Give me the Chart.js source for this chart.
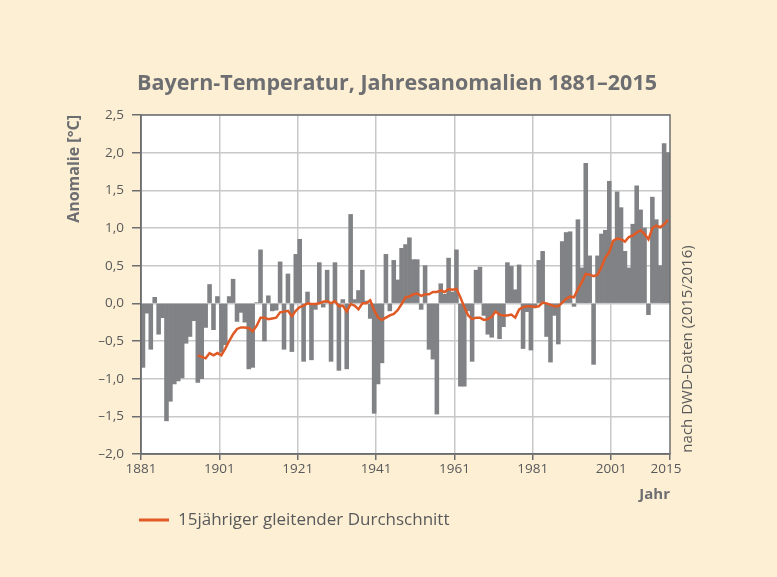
<!DOCTYPE html>
<html>
<head>
<meta charset="utf-8">
<script src="https://cdn.jsdelivr.net/npm/chart.js@4.4.0/dist/chart.umd.min.js"></script>
<style>
  html, body { margin: 0; padding: 0; background: #fdefd3; overflow: hidden; }
  canvas { display: block; }
</style>
</head>
<body>
<canvas id="tempChart" width="777" height="577"></canvas>
<script>
// texts
const titleText = 'Bayern-Temperatur, Jahresanomalien 1881–2015';
const yTitle = 'Anomalie [°C]';
const xTitle = 'Jahr';
const lineLabel = '15jähriger gleitender Durchschnitt';
const sourceNote = 'nach DWD-Daten (2015/2016)';

// yearly anomalies 1881..2015
const firstYear = 1881;
const anomalies = [
  -0.85, -0.13, -0.61, 0.08, -0.41, -0.19, -1.56, -1.30, -1.07, -1.03,   // 1881-1890
  -0.99, -0.53, -0.44, -0.23, -1.05, -1.00, -0.32, 0.25, -0.35, 0.09,    // 1891-1900
  -0.65, -0.55, 0.09, 0.32, -0.24, -0.12, -0.25, -0.87, -0.85, 0.01,     // 1901-1910
  0.71, -0.50, 0.10, -0.10, -0.09, 0.55, -0.61, 0.39, -0.64, 0.65,       // 1911-1920
  0.85, -0.77, 0.15, -0.75, -0.08, 0.54, -0.05, 0.44, -0.77, 0.54,       // 1921-1930
  -0.89, 0.05, -0.87, 1.18, 0.05, 0.17, 0.44, 0.03, -0.20, -1.46,        // 1931-1940
  -1.07, -0.79, 0.65, -0.10, 0.57, 0.31, 0.73, 0.78, 0.87, 0.58,         // 1941-1950
  0.58, -0.08, 0.50, -0.61, -0.74, -1.47, 0.26, 0.12, 0.60, 0.15,        // 1951-1960
  0.71, -1.10, -1.10, -0.10, -0.77, 0.44, 0.48, -0.16, -0.41, -0.45,     // 1961-1970
  -0.10, -0.47, -0.31, 0.54, 0.49, 0.18, 0.51, -0.60, -0.11, -0.62,      // 1971-1980
  -0.06, 0.57, 0.69, -0.44, -0.78, -0.16, -0.54, 0.82, 0.94, 0.95,       // 1981-1990
  -0.04, 1.11, 0.47, 1.86, 0.63, -0.81, 0.63, 0.92, 0.97, 1.62,          // 1991-2000
  0.82, 1.48, 1.27, 0.69, 0.47, 1.05, 1.56, 1.24, 1.00, -0.15,           // 2001-2010
  1.41, 1.11, 0.50, 2.12, 2.00                                           // 2011-2015
];

// 15-year moving average, drawn from 1895 on
const maStart = 1895;
const movingAvg = [
  -0.69, -0.71, -0.73, -0.66, -0.69, -0.66,                              // 1895-1900
  -0.69, -0.60, -0.50, -0.41, -0.34, -0.32, -0.32, -0.33, -0.37, -0.30,  // 1901-1910
  -0.19, -0.19, -0.21, -0.20, -0.19, -0.12, -0.11, -0.10, -0.17, -0.10,  // 1911-1920
  -0.05, -0.03, 0.00, -0.01, -0.01, 0.00, 0.02, 0.03, 0.00, 0.03,        // 1921-1930
  -0.04, -0.03, -0.11, -0.01, -0.03, -0.08, 0.00, 0.00, 0.04, -0.09,     // 1931-1940
  -0.19, -0.22, -0.19, -0.16, -0.14, -0.09, -0.01, 0.08, 0.09, 0.12,     // 1941-1950
  0.13, 0.10, 0.12, 0.12, 0.15, 0.15, 0.17, 0.15, 0.19, 0.18,            // 1951-1960
  0.19, 0.08, -0.05, -0.16, -0.21, -0.19, -0.19, -0.22, -0.21, -0.18,    // 1961-1970
  -0.11, -0.15, -0.16, -0.16, -0.15, -0.19, -0.08, -0.05, -0.04, -0.04,  // 1971-1980
  -0.05, -0.04, 0.01, 0.00, -0.02, -0.04, -0.04, 0.01, 0.06, 0.09,       // 1981-1990
  0.08, 0.19, 0.28, 0.39, 0.38, 0.36, 0.38, 0.48, 0.61, 0.68,            // 1991-2000
  0.83, 0.86, 0.85, 0.82, 0.88, 0.90, 0.94, 0.97, 0.92, 0.85,            // 2001-2010
  1.00, 1.03, 1.01, 1.05, 1.11                                           // 2011-2015
];

const tickYears = [1881, 1901, 1921, 1941, 1961, 1981, 2001, 2015];
const gridYears = [1901, 1921, 1941, 1961, 1981, 2001];
const yMin = -2.0, yMax = 2.5, yStep = 0.5;

// colours
const cream = '#fdefd3';
const barGray = '#808285';
const orange = '#e05a26';
const gridGray = '#c8c8c8';
const axisGray = '#6d6e71';
const textGray = '#58595b';
const fontFamily = "'Open Sans', 'Noto Sans', sans-serif";

const years = anomalies.map((v, i) => String(firstYear + i));
const maData = years.map(y => (+y < maStart ? null : movingAvg[+y - maStart]));

function fmt(v) {
  return v.toFixed(1).replace('.', ',').replace('-', '–');
}

// cream page, white plot, frame, title, legend and side note
const decor = {
  id: 'decor',
  beforeDraw(chart) {
    const { ctx, chartArea: a } = chart;
    ctx.save();
    ctx.fillStyle = cream;
    ctx.fillRect(0, 0, chart.width, chart.height);
    ctx.fillStyle = '#ffffff';
    ctx.fillRect(a.left, a.top, a.right - a.left, a.bottom - a.top);
    ctx.restore();
  },
  afterDatasetsDraw(chart) {
    const { ctx, chartArea: a } = chart;
    ctx.save();
    ctx.strokeStyle = axisGray;
    ctx.lineWidth = 1.5;
    ctx.strokeRect(a.left, a.top, a.right - a.left, a.bottom - a.top);
    ctx.restore();
  },
  afterDraw(chart) {
    const { ctx } = chart;
    ctx.save();
    // title
    ctx.fillStyle = axisGray;
    ctx.font = 'bold 21.5px ' + fontFamily;
    ctx.textAlign = 'center';
    ctx.textBaseline = 'middle';
    ctx.fillText(titleText, 397, 84);
    // legend
    ctx.strokeStyle = orange;
    ctx.lineWidth = 3;
    ctx.beginPath();
    ctx.moveTo(139, 520);
    ctx.lineTo(169, 520);
    ctx.stroke();
    ctx.fillStyle = textGray;
    ctx.font = '17px ' + fontFamily;
    ctx.textAlign = 'left';
    ctx.fillText(lineLabel, 178, 520);
    // source note, rotated
    ctx.translate(688, 349);
    ctx.rotate(-Math.PI / 2);
    ctx.font = '15px ' + fontFamily;
    ctx.textAlign = 'center';
    ctx.fillText(sourceNote, 0, 0);
    ctx.restore();
  }
};

const ctx = document.getElementById('tempChart').getContext('2d');
const chart = new Chart(ctx, {
  data: {
    labels: years,
    datasets: [
      {
        type: 'line',
        label: lineLabel,
        data: maData,
        borderColor: orange,
        borderWidth: 2.5,
        pointRadius: 0,
        tension: 0,
        order: 0
      },
      {
        type: 'bar',
        label: 'Anomalie',
        data: anomalies,
        backgroundColor: barGray,
        barPercentage: 1,
        categoryPercentage: 1,
        borderWidth: 0,
        order: 1
      }
    ]
  },
  options: {
    responsive: false,
    animation: false,
    layout: { padding: { left: 62, right: 107, top: 115, bottom: 73 } },
    plugins: {
      legend: { display: false },
      title: { display: false },
      tooltip: { enabled: false }
    },
    scales: {
      x: {
        type: 'category',
        offset: true,
        afterFit: (scale) => { scale.height = 50; },
        border: { display: true, color: axisGray, width: 1.5 },
        grid: {
          offset: true,
          drawTicks: true,
          tickLength: 6,
          lineWidth: 1.5,
          color: (c) => (c.type === 'tick' && gridYears.includes(+years[c.index]) ? gridGray : 'transparent'),
          tickColor: (c) => {
            if (c.type !== 'tick') return axisGray;
            const y = +years[c.index];
            return (tickYears.includes(y) && y !== 2015) ? axisGray : 'transparent';
          }
        },
        ticks: {
          autoSkip: false,
          maxRotation: 0,
          padding: 1,
          labelOffset: -2,
          color: textGray,
          font: { family: fontFamily, size: 13.5 },
          callback: function (val, idx) {
            const y = +years[idx];
            return tickYears.includes(y) ? String(y) : '';
          }
        },
        title: {
          display: true,
          text: xTitle,
          align: 'end',
          color: axisGray,
          padding: { top: 0, bottom: 0 },
          font: { family: fontFamily, size: 15, weight: 'bold' }
        }
      },
      y: {
        type: 'linear',
        min: yMin,
        max: yMax,
        afterFit: (scale) => { scale.width = 79; },
        border: { display: true, color: axisGray, width: 1.5 },
        grid: {
          color: gridGray,
          lineWidth: 1.5,
          tickLength: 9,
          tickColor: axisGray
        },
        ticks: {
          stepSize: yStep,
          padding: 8,
          color: textGray,
          font: { family: fontFamily, size: 13.5 },
          callback: (v) => fmt(v)
        },
        title: {
          display: true,
          text: yTitle,
          align: 'end',
          color: axisGray,
          padding: { top: 3, bottom: 0 },
          font: { family: fontFamily, size: 16, weight: 'bold' }
        }
      }
    }
  },
  plugins: [decor]
});
</script>
</body>
</html>
